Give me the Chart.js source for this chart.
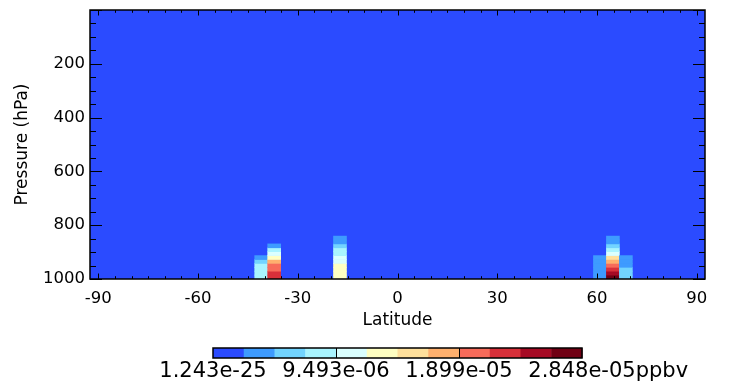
<!DOCTYPE html>
<html>
<head>
<meta charset="utf-8">
<script src="https://cdn.jsdelivr.net/npm/chart.js@4.4.0/dist/chart.umd.min.js"></script>
<style>
  html, body { margin: 0; padding: 0; background: #fff; }
  #wrap { width: 737px; height: 387px; }
</style>
</head>
<body>
<div id="wrap"><canvas id="heatCanvas" width="737" height="387"></canvas></div>
<script>
// latitude of the columns that rise above the background value
const latitudes = [-41.0, -37.1, -17.3, 60.9, 64.8, 68.7];
// pressure edges of the lowest model layers (hPa), surface first
const levelEdges = [1000, 985.5, 971, 956.5, 942, 927.5, 913, 898.5, 884, 869.5, 855, 840.5];
// mixing ratio in each layer (ppbv), surface layer first
const colS41 = [8.6e-6, 8.4e-6, 8.1e-6, 7.6e-6, 5.6e-6, 3.4e-6];
const colS37 = [23.1e-6, 22.0e-6, 20.6e-6, 19.5e-6, 17.6e-6, 13.2e-6, 10.4e-6, 8.0e-6, 3.9e-6];
const colS17 = [13.5e-6, 13.2e-6, 12.8e-6, 12.2e-6, 11.0e-6, 9.9e-6, 8.6e-6, 7.4e-6, 5.5e-6, 4.1e-6, 3.0e-6];
const colN61 = [4.2e-6, 4.0e-6, 3.8e-6, 3.5e-6, 3.1e-6, 2.8e-6];
const colN65 = [28.0e-6, 25.2e-6, 22.8e-6, 20.4e-6, 17.9e-6, 15.3e-6, 10.9e-6, 8.2e-6, 6.0e-6, 4.3e-6, 3.0e-6];
const colN69 = [6.4e-6, 5.9e-6, 5.1e-6, 4.3e-6, 3.6e-6, 2.9e-6];
const columns = [colS41, colS37, colS17, colN61, colN65, colN69];

// everything else sits at the field minimum
const minValue = 1.243e-25;
const levelStep = 2.373e-6;
const colorbarLabels = ["1.243e-25", "9.493e-06", "1.899e-05", "2.848e-05"];
const units = "ppbv";
const palette = [
  "#2b4bff", "#3e9bff", "#72d4ff", "#a9f4ff", "#daffff", "#ffffc2",
  "#ffe09c", "#ffb06e", "#f76b5a", "#d8303a", "#a60a24", "#700014"
];

const colorFor = (v) => {
  let i = Math.floor((v - minValue) / levelStep);
  i = Math.max(0, Math.min(palette.length - 1, i));
  return palette[i];
};

const cells = [];
latitudes.forEach((lat, c) => {
  columns[c].forEach((v, k) => {
    cells.push({ x: lat, y: [levelEdges[k], levelEdges[k + 1]], v: v });
  });
});

const isWhole = (v, m) => Math.abs(v - Math.round(v)) < 1e-6 && Math.round(v) % m === 0;

// fill the plot with the colour of the field minimum
const fieldBackground = {
  id: "fieldBackground",
  beforeDatasetsDraw(chart) {
    const { ctx, chartArea: a } = chart;
    ctx.save();
    ctx.fillStyle = colorFor(minValue);
    ctx.fillRect(a.left, a.top, a.width, a.height);
    ctx.restore();
  },
};

// IDL style box with inward ticks on all four sides
const frameTicks = {
  id: "frameTicks",
  afterDatasetsDraw(chart) {
    const { ctx, chartArea: a, scales } = chart;
    const x = scales.x, y = scales.y;
    ctx.save();
    ctx.strokeStyle = "#000";
    ctx.lineWidth = 1;
    ctx.beginPath();
    x.ticks.forEach((t) => {
      const px = Math.round(x.getPixelForValue(t.value)) + 0.5;
      const len = isWhole(t.value, 30) ? 5.5 : 2.8;
      ctx.moveTo(px, a.bottom); ctx.lineTo(px, a.bottom - len);
      ctx.moveTo(px, a.top); ctx.lineTo(px, a.top + len);
    });
    y.ticks.forEach((t) => {
      const py = Math.round(y.getPixelForValue(t.value)) + 0.5;
      const len = isWhole(t.value, 200) ? 12 : 6;
      ctx.moveTo(a.left, py); ctx.lineTo(a.left + len, py);
      ctx.moveTo(a.right, py); ctx.lineTo(a.right - len, py);
    });
    ctx.stroke();
    ctx.lineWidth = 1.5;
    ctx.strokeRect(a.left, a.top, a.width, a.height);
    ctx.restore();
  },
};

const colorbar = {
  id: "colorbar",
  afterDraw(chart) {
    const ctx = chart.ctx;
    const left = 213, top = 348, w = 369, h = 10;
    const cw = w / palette.length;
    ctx.save();
    palette.forEach((c, i) => {
      ctx.fillStyle = c;
      ctx.fillRect(left + i * cw, top, cw + 0.5, h);
    });
    ctx.strokeStyle = "#000";
    ctx.lineWidth = 1;
    const step = w / (colorbarLabels.length - 1);
    ctx.beginPath();
    for (let i = 1; i < colorbarLabels.length - 1; i++) {
      const px = Math.round(left + i * step) + 0.5;
      ctx.moveTo(px, top); ctx.lineTo(px, top + h);
    }
    ctx.stroke();
    ctx.lineWidth = 1.5;
    ctx.strokeRect(left, top, w, h);
    ctx.fillStyle = "#000";
    ctx.font = "21px 'DejaVu Sans'";
    ctx.textBaseline = "middle";
    colorbarLabels.forEach((lab, i) => {
      const cx = left + i * step;
      const tw = ctx.measureText(lab).width;
      ctx.textAlign = "left";
      ctx.fillText(lab, cx - tw / 2, top + h + 14);
      if (i === colorbarLabels.length - 1) {
        ctx.fillText(units, cx + tw / 2, top + h + 14);
      }
    });
    ctx.restore();
  },
};

Chart.defaults.font.family = "'DejaVu Sans'";
Chart.defaults.color = "#000";

new Chart(document.getElementById("heatCanvas"), {
  type: "bar",
  data: {
    datasets: [
      {
        data: cells,
        backgroundColor: cells.map((c) => colorFor(c.v)),
        borderWidth: 0,
        barPercentage: 1,
        categoryPercentage: 1,
        grouped: false,
      },
    ],
  },
  options: {
    responsive: false,
    animation: false,
    layout: { padding: { left: 0, top: 10, right: 32, bottom: 53 } },
    plugins: { legend: { display: false }, tooltip: { enabled: false } },
    scales: {
      x: {
        type: "linear",
        min: -90,
        max: 90,
        grid: { display: false, drawTicks: false },
        border: { display: false },
        ticks: {
          stepSize: 5,
          autoSkip: false,
          maxRotation: 0,
          padding: 10,
          font: { size: 16.5 },
          callback: (v) => (isWhole(v, 30) ? Math.round(v) : ""),
        },
        title: { display: true, text: "Latitude", font: { size: 17 }, padding: { top: 0, bottom: 3 } },
        afterFit: (s) => { s.height = 55; s.paddingLeft = 0; s.paddingRight = 0; },
      },
      y: {
        type: "linear",
        reverse: true,
        min: 0,
        max: 1000,
        grid: { display: false, drawTicks: false },
        border: { display: false },
        ticks: {
          stepSize: 50,
          autoSkip: false,
          padding: 5,
          font: { size: 16.5 },
          callback: (v) => (v > 0 && isWhole(v, 200) ? Math.round(v) : ""),
        },
        title: { display: true, text: "Pressure (hPa)", font: { size: 17 }, padding: { top: 12, bottom: 0 } },
        afterFit: (s) => { s.width = 90; s.paddingTop = 0; s.paddingBottom = 0; },
      },
    },
  },
  plugins: [fieldBackground, frameTicks, colorbar],
});
</script>
</body>
</html>
